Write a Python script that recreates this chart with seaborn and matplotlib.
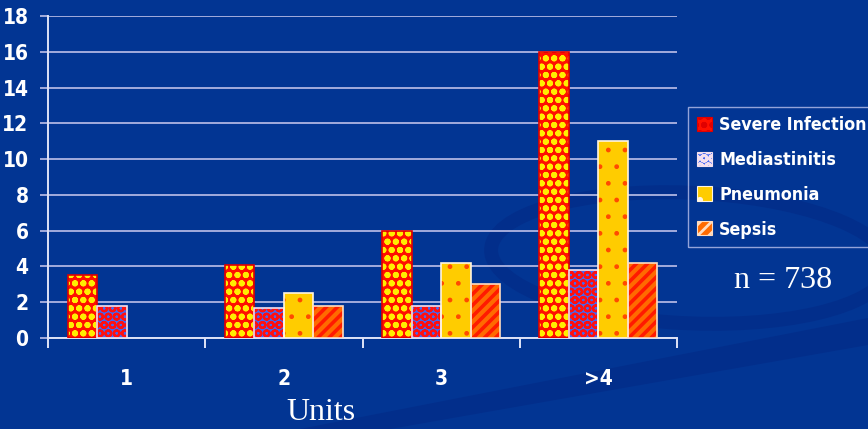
import matplotlib
matplotlib.use("Agg")
import matplotlib.pyplot as plt
import matplotlib.font_manager as fm
from matplotlib.patches import Rectangle, Ellipse, Polygon
import seaborn as sns
import pandas as pd
from matplotlib.ticker import FixedLocator, NullFormatter

units = ["1", "2", "3", ">4"]
infections = ["Severe Infection", "Mediastinitis", "Pneumonia", "Sepsis"]
severe_infection = [3.5, 4.1, 6.0, 16.0]
mediastinitis = [1.8, 1.7, 1.8, 3.8]
pneumonia = [0.0, 2.5, 4.2, 11.0]
sepsis = [0.0, 1.8, 3.0, 4.2]
y_ticks = [0, 2, 4, 6, 8, 10, 12, 14, 16, 18]

series = [severe_infection, mediastinitis, pneumonia, sepsis]
df = pd.DataFrame(
    [(u, name, v) for name, vals in zip(infections, series) for u, v in zip(units, vals)],
    columns=["Units", "Infection", "Rate"],
)

BG = "#023593"
SWIRL = "#022e8b"
GRID = "#a3acdc"
serif = ["Liberation Serif", "DejaVu Serif"]

# prefer a narrow bold sans when one is installed
installed = {(f.name, f.stretch) for f in fm.fontManager.ttflist}
names = {n for n, _ in installed}
if "Liberation Sans Narrow" in names:
    sans, stretch = ["Liberation Sans Narrow", "DejaVu Sans"], "normal"
elif ("DejaVu Sans", "condensed") in installed:
    sans, stretch = ["DejaVu Sans"], "condensed"
else:
    sans, stretch = ["Liberation Sans", "DejaVu Sans"], "normal"

sns.set_theme(style="white")
plt.rcParams["font.family"] = sans
plt.rcParams["font.stretch"] = stretch
plt.rcParams["hatch.linewidth"] = 2.0

face = {"Severe Infection": "#ff1000", "Mediastinitis": "#4468f4",
        "Pneumonia": "#ffcc00", "Sepsis": "#ff6a00"}
hatch = {"Severe Infection": "oo", "Mediastinitis": "OO",
         "Pneumonia": ".", "Sepsis": "///"}
hatch_col = {"Severe Infection": "#ffee00", "Mediastinitis": "#ff1010",
             "Pneumonia": "#ff4a00", "Sepsis": "#ff1a00"}
hatch_lw = {"Severe Infection": 2.0, "Mediastinitis": 1.6,
            "Pneumonia": 1.0, "Sepsis": 2.6}
edge = {"Severe Infection": "#e00000", "Mediastinitis": "#f4e0ee",
        "Pneumonia": "#fff4e0", "Sepsis": "#ffdcc0"}

fig = plt.figure(figsize=(8.68, 4.29), dpi=100, facecolor=BG)

# faint swirl decoration in the slide background
fig.patches.append(Ellipse((690 / 868, 1 - 258 / 429), 400 / 868, 130 / 429, angle=-8,
                           transform=fig.transFigure, fill=False, edgecolor=SWIRL,
                           linewidth=10, zorder=-2))
fig.patches.append(Polygon([(300 / 868, 0), (868 / 868, 1 - 318 / 429),
                            (868 / 868, 1 - 345 / 429), (390 / 868, 0)],
                           closed=True, transform=fig.transFigure, facecolor=SWIRL,
                           edgecolor="none", zorder=-2))

ax = fig.add_axes([48 / 868, 1 - 338 / 429, (677 - 48) / 868, (338 - 16) / 429])
ax.set_zorder(1)
ax.patch.set_alpha(0)

sns.barplot(data=df, x="Units", y="Rate", hue="Infection", hue_order=infections,
            order=units, palette=face, width=0.75, ax=ax, saturation=1, legend=True)


def style_patch(p, name):
    p.set_facecolor(face[name])
    p.set_hatch(hatch[name])
    p.set_edgecolor(hatch_col[name])
    p.set_linewidth(0)
    if hasattr(p, "set_hatch_linewidth"):
        p.set_hatch_linewidth(hatch_lw[name])


for cont, name in zip(ax.containers, infections):
    for p in cont.patches:
        style_patch(p, name)
        p.set_zorder(3)

# thin outlines drawn on top of the patterned bars
sns.barplot(data=df, x="Units", y="Rate", hue="Infection", hue_order=infections,
            order=units, palette=face, width=0.75, ax=ax, fill=False, legend=False)
for cont, name in zip(ax.containers[len(infections):], infections):
    for p in cont.patches:
        p.set_edgecolor(edge[name])
        p.set_linewidth(1.2)
        p.set_zorder(4)
        if p.get_height() == 0:
            p.set_visible(False)

ax.set_xlim(-0.5, 3.5)
ax.set_ylim(0, 18)
ax.set_yticks(y_ticks)
ax.set_yticklabels([str(t) for t in y_ticks], fontsize=15, fontweight="bold", color="white")
ax.yaxis.grid(True, color=GRID, linewidth=1.4, zorder=0)
ax.set_axisbelow(True)
ax.tick_params(axis="y", length=6, width=1.4, color=GRID, pad=8, left=True)

ax.set_xticks(range(len(units)))
ax.set_xticklabels(units, fontsize=15, fontweight="bold", color="white")
ax.tick_params(axis="x", which="major", length=0, pad=22)
ax.xaxis.set_minor_locator(FixedLocator([-0.5, 0.5, 1.5, 2.5, 3.5]))
ax.xaxis.set_minor_formatter(NullFormatter())
ax.tick_params(axis="x", which="minor", length=7, width=1.4, color="#e0e4f8",
               direction="out", bottom=True)

for side in ["top", "right"]:
    ax.spines[side].set_visible(False)
for side in ["left", "bottom"]:
    ax.spines[side].set_color("#dde2f6")
    ax.spines[side].set_linewidth(1.4)
ax.set_xlabel("")
ax.set_ylabel("")

ax.legend_.remove()
handles = [Rectangle((0, 0), 1, 1) for _ in infections]
for h, name in zip(handles, infections):
    style_patch(h, name)
    h.set_linewidth(0.8)
    h.set_edgecolor(edge[name])
leg = fig.legend(handles, infections, loc="upper left",
                 bbox_to_anchor=(688 / 868, 1 - 107 / 429), bbox_transform=fig.transFigure,
                 borderaxespad=0, frameon=True, fancybox=False,
                 prop={"family": sans, "weight": "bold", "size": 12.8, "stretch": stretch},
                 handlelength=0.85, handleheight=0.85, handletextpad=0.4,
                 labelspacing=0.95, borderpad=0.5)
leg.set_zorder(5)
leg.get_frame().set_facecolor("none")
leg.get_frame().set_edgecolor("#b8c0ec")
leg.get_frame().set_linewidth(1.0)
for t in leg.get_texts():
    t.set_color("white")

fig.text(783 / 868, 1 - 281 / 429, "n = 738", family=serif, fontsize=23,
         color="white", ha="center", va="center", zorder=5)
fig.text(321 / 868, 1 - 412 / 429, "Units", family=serif, fontsize=23,
         color="white", ha="center", va="center", zorder=5)

fig.savefig("out.png", dpi=100, facecolor=BG)
